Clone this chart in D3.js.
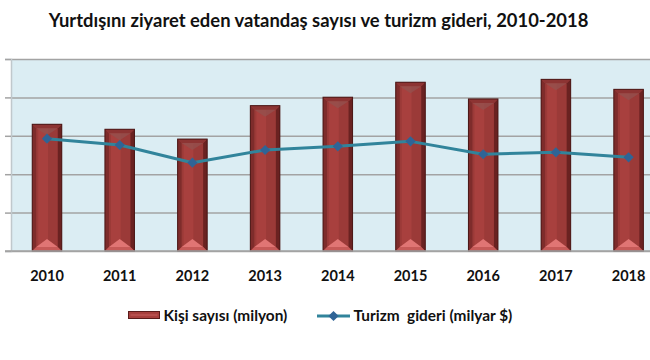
<!DOCTYPE html>
<html>
<head>
<meta charset="utf-8">
<script src="https://cdn.jsdelivr.net/npm/d3@7/dist/d3.min.js"></script>
<style>
  html, body { margin: 0; padding: 0; background: #ffffff; }
  svg { display: block; font-family: Lato, "Open Sans", "DejaVu Sans", sans-serif; }
</style>
</head>
<body>
<svg id="chart" width="650" height="360"></svg>
<script>
const years = ["2010","2011","2012","2013","2014","2015","2016","2017","2018"];
const visitors = [6.60, 6.34, 5.83, 7.57, 8.01, 8.79, 7.92, 8.94, 8.42];      // Kişi sayısı (milyon)
const spending = [5.85, 5.52, 4.60, 5.26, 5.45, 5.71, 5.04, 5.14, 4.88];      // Turizm gideri (milyar $)
const yTicks = [0, 2, 4, 6, 8, 10];
const titleText = "Yurtdışını ziyaret eden vatandaş sayısı ve turizm gideri, 2010-2018";
const legendBar = "Kişi sayısı (milyon)";
const legendLine = "Turizm  gideri (milyar $)";

const W = 650, H = 360;
const svg = d3.select("#chart");

const plot = { left: 11, top: 59, bottom: 251 };
const step = 72.7;
const x = d3.scaleBand().domain(years)
  .range([plot.left - 0.35, plot.left - 0.35 + step * years.length])
  .paddingInner(0.594).paddingOuter(0.297);
const y = d3.scaleLinear().domain([0, 10]).range([plot.bottom, plot.top]);

// Title
svg.append("text")
  .attr("x", 318.5).attr("y", 27)
  .attr("text-anchor", "middle")
  .attr("font-size", 18.4).attr("font-weight", "bold")
  .attr("fill", "#111")
  .text(titleText);

// Plot background
svg.append("rect")
  .attr("x", plot.left).attr("y", plot.top)
  .attr("width", W - plot.left).attr("height", plot.bottom - plot.top)
  .attr("fill", "#dbedf3");

// Gridlines via axis
const yAxis = d3.axisLeft(y).tickValues(yTicks).tickSize(-(W - plot.left)).tickFormat("");
const gy = svg.append("g").attr("transform", `translate(${plot.left},0)`).call(yAxis);
gy.select(".domain").remove();
gy.selectAll(".tick line").attr("stroke", "#a3a3a3").attr("stroke-width", 1.5);
// small outer ticks
const yAxis2 = d3.axisLeft(y).tickValues(yTicks).tickSize(6).tickFormat("");
const gy2 = svg.append("g").attr("transform", `translate(${plot.left},0)`).call(yAxis2);
gy2.select(".domain").attr("stroke", "#c0c8cc").attr("stroke-width", 1.5);
gy2.selectAll(".tick line").attr("stroke", "#a3a3a3").attr("stroke-width", 1.5);

// Bars with bevel
const bw = x.bandwidth();
const b = 4;
const bars = svg.append("g");
years.forEach((yr, i) => {
  const x0 = x(yr), y0 = y(visitors[i]), h = y(0) - y0, w = bw;
  const g = bars.append("g");
  g.append("rect").attr("x", x0).attr("y", y0).attr("width", w).attr("height", h)
    .attr("fill", "#9b3a38");
  // center highlight
  g.append("rect").attr("x", x0 + b + 2).attr("y", y0 + b).attr("width", (w - 2 * b) / 2 - 1).attr("height", h - 2 * b)
    .attr("fill", "#a8403e");
  // left bevel
  g.append("polygon").attr("points", [[x0, y0], [x0 + b, y0 + b], [x0 + b, y0 + h - b], [x0, y0 + h]].join(" "))
    .attr("fill", "#7e2c2b");
  // right bevel
  g.append("polygon").attr("points", [[x0 + w, y0], [x0 + w - b, y0 + b], [x0 + w - b, y0 + h - b], [x0 + w, y0 + h]].join(" "))
    .attr("fill", "#6a2221");
  // top bevel
  g.append("polygon").attr("points", [[x0, y0], [x0 + w, y0], [x0 + w - b, y0 + b], [x0 + b, y0 + b]].join(" "))
    .attr("fill", "#8d3433");
  g.append("polygon").attr("points", [[x0 + b, y0 + b], [x0 + w - b, y0 + b], [x0 + w / 2, y0 + b + 7]].join(" "))
    .attr("fill", "#94504d").attr("opacity", 0.8);
  // bottom bevel
  g.append("polygon").attr("points", [[x0, y0 + h], [x0 + w, y0 + h], [x0 + w - b, y0 + h - b], [x0 + b, y0 + h - b]].join(" "))
    .attr("fill", "#c65a58");
  g.append("polygon").attr("points", [[x0 + b, y0 + h - b], [x0 + w - b, y0 + h - b], [x0 + w / 2, y0 + h - b - 8]].join(" "))
    .attr("fill", "#e07574");
  // outline
  g.append("rect").attr("x", x0).attr("y", y0).attr("width", w).attr("height", h)
    .attr("fill", "none").attr("stroke", "#4a1716").attr("stroke-width", 1);
});

// Bottom axis
const xAxis = d3.axisBottom(x).tickSize(0).tickPadding(20);
const gx = svg.append("g").attr("transform", `translate(0,${plot.bottom})`).call(xAxis);
gx.select(".domain").remove();
svg.append("line").attr("x1", 5).attr("x2", W).attr("y1", plot.bottom).attr("y2", plot.bottom)
  .attr("stroke", "#a3a3a3").attr("stroke-width", 1.5);
gx.selectAll(".tick text")
  .attr("font-family", "Lato, 'Open Sans', sans-serif")
  .attr("font-size", 14.5).attr("font-weight", "bold").attr("fill", "#111");

// Line
const cx = d => x(d) + bw / 2;
const line = d3.line().x((d, i) => cx(years[i])).y(d => y(d));
svg.append("path").datum(spending)
  .attr("d", line).attr("fill", "none")
  .attr("stroke", "#31849b").attr("stroke-width", 3).attr("stroke-linejoin", "round");
const diamond = d3.symbol().type(d3.symbolSquare).size(52);
svg.append("g").selectAll("path").data(spending).join("path")
  .attr("d", diamond)
  .attr("transform", (d, i) => `translate(${cx(years[i])},${y(d)}) rotate(45)`)
  .attr("fill", "#2f6496");

// Legend
const lg = svg.append("g");
lg.append("rect").attr("x", 128.5).attr("y", 311.5).attr("width", 31).attr("height", 7)
  .attr("fill", "#a8403e").attr("stroke", "#5a1c1b").attr("stroke-width", 1);
lg.append("line").attr("x1", 130.5).attr("x2", 157.5).attr("y1", 315).attr("y2", 315)
  .attr("stroke", "#c8605e").attr("stroke-width", 1);
lg.append("text").attr("x", 163.5).attr("y", 321)
  .attr("font-size", 15.4).attr("font-weight", "bold").attr("fill", "#111")
  .text(legendBar);
lg.append("line").attr("x1", 317).attr("x2", 350).attr("y1", 316).attr("y2", 316)
  .attr("stroke", "#31849b").attr("stroke-width", 3);
lg.append("path").attr("d", diamond).attr("transform", "translate(333.5,316) rotate(45)").attr("fill", "#2f6496");
lg.append("text").attr("x", 353.5).attr("y", 321)
  .attr("font-size", 15.4).attr("font-weight", "bold").attr("fill", "#111")
  .attr("xml:space", "preserve").style("white-space", "pre")
  .text(legendLine);
</script>
</body>
</html>
